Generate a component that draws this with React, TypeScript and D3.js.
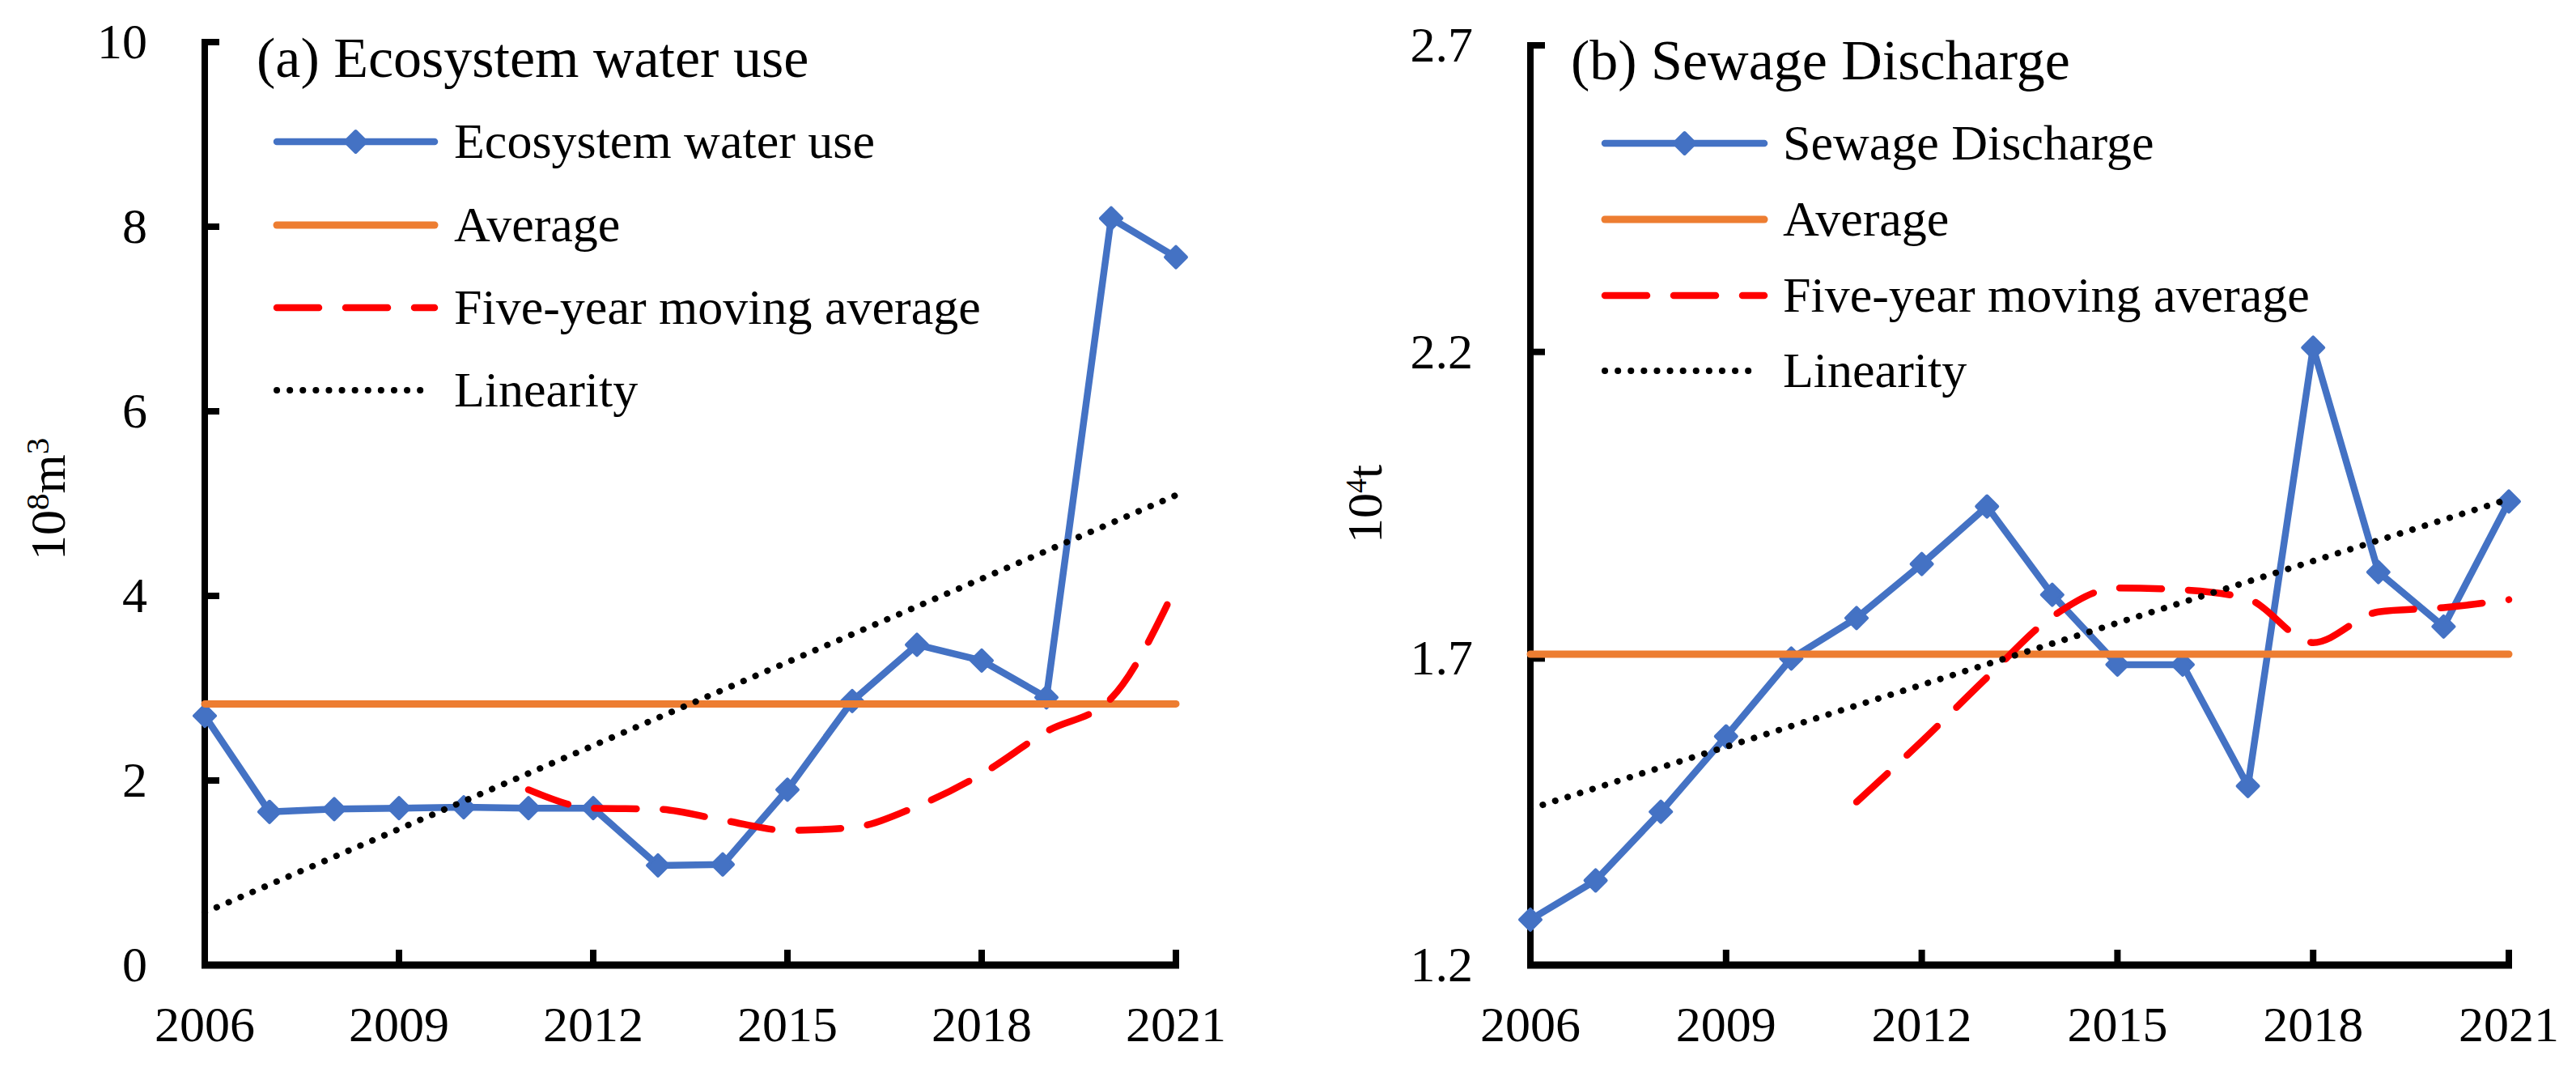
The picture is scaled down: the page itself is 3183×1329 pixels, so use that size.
import React from "react";
import * as d3 from "d3";

// ---------- data ----------
const YEARS = [2006, 2007, 2008, 2009, 2010, 2011, 2012, 2013, 2014, 2015, 2016, 2017, 2018, 2019, 2020, 2021];
const MA_YEARS = [2011, 2012, 2013, 2014, 2015, 2016, 2017, 2018, 2019, 2020, 2021];
const X_TICKS = [2006, 2009, 2012, 2015, 2018, 2021];
const TREND_YEARS = [2006, 2021];

const waterUse = [2.70, 1.66, 1.69, 1.70, 1.71, 1.70, 1.70, 1.08, 1.09, 1.90, 2.86, 3.47, 3.30, 2.90, 8.09, 7.67];
const waterAvg = 2.83;
const waterMA = [1.90, 1.70, 1.69, 1.57, 1.46, 1.49, 1.72, 2.07, 2.53, 2.89, 4.10];
const waterTrend = [0.57, 5.09];
const waterTicks = [0, 2, 4, 6, 8, 10];
const waterTickLabels = ["0", "2", "4", "6", "8", "10"];

const sewage = [1.274, 1.338, 1.450, 1.573, 1.700, 1.766, 1.854, 1.948, 1.804, 1.690, 1.690, 1.492, 2.207, 1.841, 1.752, 1.956];
const sewageAvg = 1.707;
const sewageMA = [1.466, 1.565, 1.669, 1.768, 1.815, 1.812, 1.797, 1.726, 1.776, 1.783, 1.796];
const sewageTrend = [1.455, 1.960];
const sewageTicks = [1.2, 1.7, 2.2, 2.7];
const sewageTickLabels = ["1.2", "1.7", "2.2", "2.7"];

const LEGEND_A = ["Ecosystem water use", "Average", "Five-year moving average", "Linearity"];
const LEGEND_B = ["Sewage Discharge", "Average", "Five-year moving average", "Linearity"];

// ---------- styles ----------
const FONT = "'Liberation Serif', 'Times New Roman', serif";
const FS = 62;
const TITLE_FS = 70;
const BLUE = "#4472C4";
const ORANGE = "#ED7D31";
const RED = "#FF0000";

function diamond(x: number, y: number, r: number) {
  return `M${x},${y - r}L${x + r},${y}L${x},${y + r}L${x - r},${y}Z`;
}

type PanelProps = {
  x0: number; x1: number; yTop: number; yBot: number;
  domain: [number, number];
  values: number[]; avg: number; ma: number[]; trend: number[];
  yTicks: number[]; yTickLabels: string[];
  title: string; titleX: number; titleY: number;
  legend: string[]; legX0: number; legX1: number; legTextX: number; legRows: number[];
  yLabel: React.ReactNode;
};

function Panel(p: PanelProps) {
  const x = d3.scaleLinear().domain([YEARS[0], YEARS[YEARS.length - 1]]).range([p.x0, p.x1]);
  const y = d3.scaleLinear().domain(p.domain).range([p.yBot, p.yTop]);
  const line = d3.line<[number, number]>().x((d) => x(d[0])).y((d) => y(d[1]));
  const smooth = d3.line<[number, number]>().x((d) => x(d[0])).y((d) => y(d[1])).curve(d3.curveMonotoneX);

  const seriesPts: [number, number][] = YEARS.map((yr, i) => [yr, p.values[i]]);
  const maPts: [number, number][] = MA_YEARS.map((yr, i) => [yr, p.ma[i]]);
  const trendPts: [number, number][] = TREND_YEARS.map((yr, i) => [yr, p.trend[i]]);
  const avgPts: [number, number][] = TREND_YEARS.map((yr) => [yr, p.avg]);

  const dashRed = "52 33";
  const dots = "0.1 16";

  return (
    <g>
      {/* axes */}
      <line x1={p.x0} x2={p.x0} y1={p.yTop - 4} y2={p.yBot + 4} stroke="#000" strokeWidth={8} />
      <line x1={p.x0 - 4} x2={x(YEARS[YEARS.length - 1]) + 4} y1={p.yBot} y2={p.yBot} stroke="#000" strokeWidth={9} />
      {p.yTicks.map((t, i) => (
        <g key={"yt" + i}>
          <line x1={p.x0} x2={p.x0 + 18} y1={y(t)} y2={y(t)} stroke="#000" strokeWidth={8} />
          <text x={p.x0 - 71} y={y(t) + 20} textAnchor="end" fontFamily={FONT} fontSize={FS}>{p.yTickLabels[i]}</text>
        </g>
      ))}
      {X_TICKS.map((t) => (
        <g key={"xt" + t}>
          <line x1={x(t)} x2={x(t)} y1={p.yBot} y2={p.yBot - 19} stroke="#000" strokeWidth={8} />
          <text x={x(t)} y={p.yBot + 94} textAnchor="middle" fontFamily={FONT} fontSize={FS}>{t}</text>
        </g>
      ))}

      {/* series */}
      <path d={line(seriesPts) || ""} fill="none" stroke={BLUE} strokeWidth={8.5} strokeLinejoin="round" />
      {seriesPts.map((d, i) => (
        <path key={"m" + i} d={diamond(x(d[0]), y(d[1]), 13)} fill={BLUE} stroke={BLUE} strokeWidth={4} strokeLinejoin="round" />
      ))}
      <path d={line(avgPts) || ""} fill="none" stroke={ORANGE} strokeWidth={9} strokeLinecap="round" />
      <path d={smooth(maPts) || ""} fill="none" stroke={RED} strokeWidth={8.5} strokeDasharray={dashRed} strokeLinecap="round" />
      <path d={line(trendPts) || ""} fill="none" stroke="#000" strokeWidth={8} strokeDasharray={dots} strokeLinecap="round" />

      {/* title */}
      <text x={p.titleX} y={p.titleY} fontFamily={FONT} fontSize={TITLE_FS}>{p.title}</text>

      {/* legend */}
      <line x1={p.legX0 + 4} x2={p.legX1 - 4} y1={p.legRows[0]} y2={p.legRows[0]} stroke={BLUE} strokeWidth={8.5} strokeLinecap="round" />
      <path d={diamond((p.legX0 + p.legX1) / 2, p.legRows[0], 13)} fill={BLUE} stroke={BLUE} strokeWidth={4} strokeLinejoin="round" />
      <line x1={p.legX0 + 4} x2={p.legX1 - 4} y1={p.legRows[1]} y2={p.legRows[1]} stroke={ORANGE} strokeWidth={9} strokeLinecap="round" />
      <line x1={p.legX0 + 4} x2={p.legX1 - 4} y1={p.legRows[2]} y2={p.legRows[2]} stroke={RED} strokeWidth={8.5} strokeDasharray={dashRed} strokeLinecap="round" />
      <line x1={p.legX0 + 4} x2={p.legX1 - 12} y1={p.legRows[3]} y2={p.legRows[3]} stroke="#000" strokeWidth={8} strokeDasharray={dots} strokeLinecap="round" />
      {p.legend.map((s, i) => (
        <text key={"lg" + i} x={p.legTextX} y={p.legRows[i] + 20} fontFamily={FONT} fontSize={FS}>{s}</text>
      ))}

      {p.yLabel}
    </g>
  );
}

export default function App() {
  return (
    <svg width={3183} height={1329} style={{ position: "absolute", left: 0, top: 0, background: "#fff" }}>
      <rect x={0} y={0} width={3183} height={1329} fill="#fff" />
      <Panel
        x0={253} x1={1453} yTop={52} yBot={1192} domain={[0, 10]}
        values={waterUse} avg={waterAvg} ma={waterMA} trend={waterTrend}
        yTicks={waterTicks} yTickLabels={waterTickLabels}
        title="(a) Ecosystem water use" titleX={317} titleY={95}
        legend={LEGEND_A} legX0={338} legX1={541} legTextX={561} legRows={[175, 278, 380, 482]}
        yLabel={
          <text transform="translate(80,692) rotate(-90)" textAnchor="start" fontFamily={FONT} fontSize={FS}>
            <tspan>10</tspan>
            <tspan fontSize={41} baselineShift="20">8</tspan>
            <tspan>m</tspan>
            <tspan fontSize={41} baselineShift="20">3</tspan>
          </text>
        }
      />
      <Panel
        x0={1891} x1={3100} yTop={56} yBot={1192} domain={[1.2, 2.7]}
        values={sewage} avg={sewageAvg} ma={sewageMA} trend={sewageTrend}
        yTicks={sewageTicks} yTickLabels={sewageTickLabels}
        title="(b) Sewage Discharge" titleX={1941} titleY={98}
        legend={LEGEND_B} legX0={1979} legX1={2184} legTextX={2203} legRows={[177, 271, 365, 458]}
        yLabel={
          <text transform="translate(1707,671) rotate(-90)" textAnchor="start" fontFamily={FONT} fontSize={FS}>
            <tspan>10</tspan>
            <tspan fontSize={36} baselineShift="19">4</tspan>
            <tspan>t</tspan>
          </text>
        }
      />
    </svg>
  );
}
